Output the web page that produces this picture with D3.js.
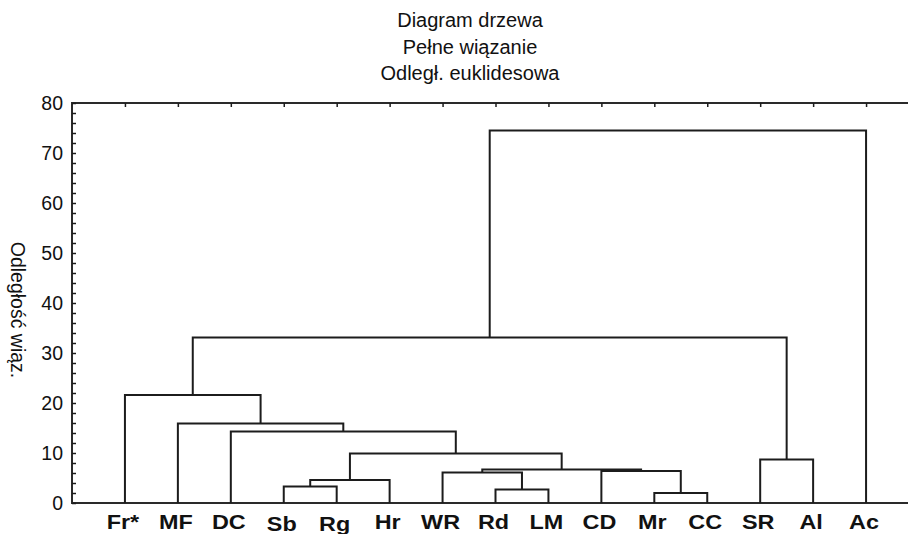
<!DOCTYPE html>
<html>
<head>
<meta charset="utf-8">
<script src="https://cdn.jsdelivr.net/npm/d3@7"></script>
<style>
  html, body { margin: 0; padding: 0; background: #fff; }
  svg { display: block; font-family: Arial, "Liberation Sans", sans-serif; }
</style>
</head>
<body>
<svg id="chart" width="908" height="534"></svg>
<script>
// Leaves of the tree, left to right
const leaves = ["Fr*", "MF", "DC", "Sb", "Rg", "Hr", "WR", "Rd", "LM", "CD", "Mr", "CC", "SR", "Al", "Ac"];

// Complete-linkage merges: cluster "cN" is the N-th merge below
const mergeA      = ["Sb", "Rd", "Mr", "c0", "WR", "CD", "c4", "c3", "DC", "MF", "Fr*", "SR", "c10", "c12"];
const mergeB      = ["Rg", "LM", "CC", "Hr", "c1", "c2", "c5", "c6", "c7", "c8", "c9",  "Al", "c11", "Ac"];
const mergeHeight = [3.3,  2.7,  2.0,  4.6,  6.1,  6.4,  6.7,  9.9,  14.3, 15.9, 21.6, 8.7,  33.1,  74.5];

// Axis ticks
const yTickValues = d3.range(0, 81, 2);
const yLabelValues = [0, 10, 20, 30, 40, 50, 60, 70, 80];

const titleLines = ["Diagram drzewa", "Pełne wiązanie", "Odległ. euklidesowa"];
const yAxisTitle = "Odległość wiąz.";

const svg = d3.select("#chart");
const plot = { left: 72, right: 919, top: 103, bottom: 503 };
const ink = "#1c1c1c";

const x = d3.scalePoint().domain(leaves).range([plot.left, plot.right]).padding(1);
const y = d3.scaleLinear().domain([0, 80]).range([plot.bottom, plot.top]);

// Position and height of every node (leaf or merged cluster)
const nodeX = new Map(leaves.map(l => [l, x(l)]));
const nodeH = new Map(leaves.map(l => [l, 0]));
const links = mergeA.map((a, i) => {
  const b = mergeB[i], h = mergeHeight[i];
  const xa = nodeX.get(a), xb = nodeX.get(b);
  const id = "c" + i;
  nodeX.set(id, (xa + xb) / 2);
  nodeH.set(id, h);
  return { xa, xb, ha: nodeH.get(a), hb: nodeH.get(b), h };
});

// Frame: left, top and bottom lines
const frame = svg.append("g").attr("stroke", "#2a2a2a").attr("stroke-width", 2).attr("fill", "none");
frame.append("line").attr("x1", plot.left).attr("x2", plot.left).attr("y1", plot.top).attr("y2", plot.bottom);
frame.append("line").attr("x1", plot.left - 1).attr("x2", 908).attr("y1", plot.top).attr("y2", plot.top);
frame.append("line").attr("x1", plot.left - 1).attr("x2", 908).attr("y1", plot.bottom).attr("y2", plot.bottom);

// Left axis: inward ticks every 2, labels every 10
const yAxis = d3.axisLeft(y)
  .tickValues(yTickValues)
  .tickSizeInner(-4)
  .tickSizeOuter(0)
  .tickPadding(9)
  .tickFormat(d => (yLabelValues.includes(d) ? d : ""));
const gy = svg.append("g").attr("transform", `translate(${plot.left},0)`).call(yAxis);
gy.select(".domain").remove();
gy.selectAll(".tick line").attr("stroke", ink).attr("stroke-width", 1.5);
gy.selectAll(".tick text").attr("font-size", 19.5).attr("fill", "#111")
  .attr("font-family", "Arial, 'Liberation Sans', sans-serif");

// Top axis: inward ticks at each leaf
const xTop = d3.axisTop(x).tickSizeInner(-4).tickSizeOuter(0).tickFormat("");
const gt = svg.append("g").attr("transform", `translate(0,${plot.top})`).call(xTop);
gt.select(".domain").remove();
gt.selectAll(".tick line").attr("stroke", ink).attr("stroke-width", 1.5);

// Dendrogram links
svg.append("g")
  .attr("fill", "none")
  .attr("stroke", ink)
  .attr("stroke-width", 2)
  .selectAll("path")
  .data(links)
  .join("path")
  .attr("d", d => `M${d.xa},${y(d.ha)}V${y(d.h)}H${d.xb}V${y(d.hb)}`);

// Leaf labels (Sb and Rg sit slightly lower)
const labelDy = { "Sb": 1.5, "Rg": 1.5 };
svg.append("g")
  .selectAll("text")
  .data(leaves)
  .join("text")
  .attr("transform", d => `translate(${x(d) - 2},${529 + (labelDy[d] || 0)}) scale(1.17,1)`)
  .attr("text-anchor", "middle")
  .attr("font-size", 20)
  .attr("font-weight", "bold")
  .attr("fill", "#111")
  .text(d => d);

// Title
svg.append("g")
  .selectAll("text")
  .data(titleLines)
  .join("text")
  .attr("x", 470)
  .attr("y", (d, i) => 27 + i * 26.5)
  .attr("text-anchor", "middle")
  .attr("font-size", 20)
  .attr("fill", "#111")
  .text(d => d);

// Y axis title, reading downward
svg.append("text")
  .attr("transform", "translate(11,310) rotate(90)")
  .attr("text-anchor", "middle")
  .attr("font-size", 19.5)
  .attr("fill", "#111")
  .text(yAxisTitle);
</script>
</body>
</html>
